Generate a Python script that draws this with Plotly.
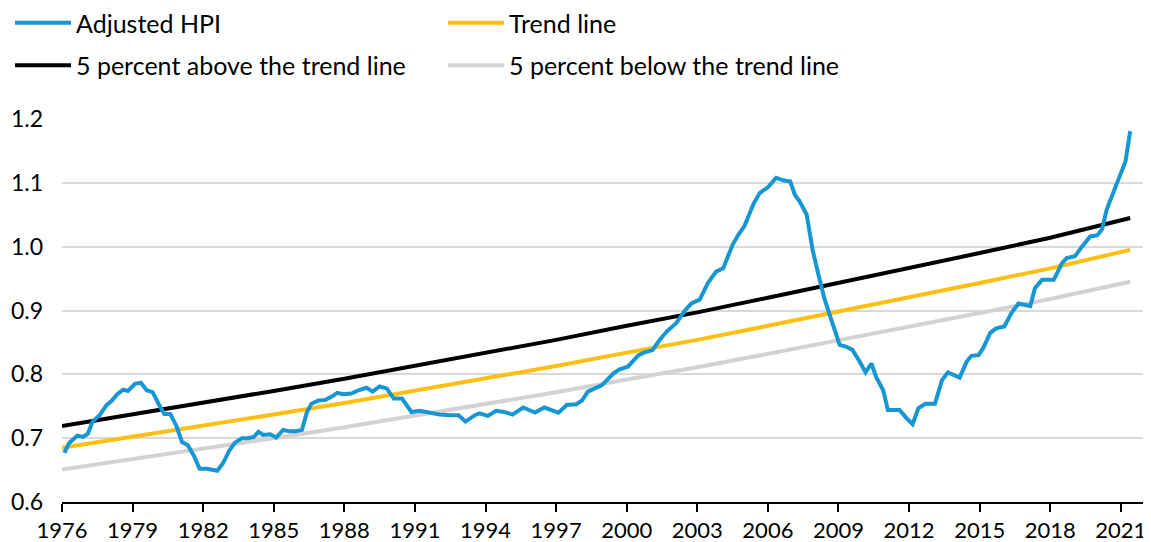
import plotly.graph_objects as go

# ---- data ----
hpi_year = [1976.1, 1976.3, 1976.65, 1976.9, 1977.1, 1977.3, 1977.6, 1977.9, 1978.1, 1978.35,
            1978.6, 1978.8, 1979.1, 1979.35, 1979.6, 1979.85, 1980.1, 1980.35, 1980.6, 1980.85,
            1981.1, 1981.35, 1981.6, 1981.85, 1982.15, 1982.4, 1982.6, 1982.85, 1983.1, 1983.35,
            1983.65, 1983.9, 1984.15, 1984.35, 1984.55, 1984.85, 1985.1, 1985.4, 1985.65, 1985.95,
            1986.2, 1986.4, 1986.6, 1986.9, 1987.2, 1987.5, 1987.7, 1987.95, 1988.3, 1988.6,
            1988.95, 1989.2, 1989.5, 1989.8, 1990.1, 1990.45, 1990.65, 1990.85, 1991.2, 1991.65,
            1992.05, 1992.5, 1992.85, 1993.15, 1993.55, 1993.75, 1994.1, 1994.45, 1994.8, 1995.15,
            1995.6, 1996.1, 1996.5, 1997.1, 1997.45, 1997.85, 1998.1, 1998.35, 1998.95, 1999.45,
            1999.7, 2000.05, 2000.5, 2000.8, 2001.1, 2001.4, 2001.7, 2002.1, 2002.5, 2002.75,
            2003.1, 2003.45, 2003.8, 2004.1, 2004.5, 2004.75, 2005.0, 2005.4, 2005.65, 2006.0,
            2006.35, 2006.65, 2006.95, 2007.15, 2007.35, 2007.65, 2007.9, 2008.15, 2008.4, 2008.7,
            2009.05, 2009.35, 2009.6, 2009.9, 2010.15, 2010.4, 2010.6, 2010.9, 2011.1, 2011.4,
            2011.6, 2011.9, 2012.15, 2012.4, 2012.7, 2013.1, 2013.4, 2013.65, 2014.15, 2014.45,
            2014.65, 2014.95, 2015.15, 2015.45, 2015.7, 2016.05, 2016.35, 2016.65, 2017.15, 2017.35,
            2017.65, 2018.15, 2018.5, 2018.7, 2019.05, 2019.35, 2019.7, 2020.0, 2020.2, 2020.4,
            2020.8, 2021.2, 2021.4]
hpi_value = [0.677, 0.692, 0.704, 0.702, 0.707, 0.726, 0.736, 0.752, 0.758, 0.769,
             0.776, 0.774, 0.785, 0.787, 0.775, 0.772, 0.754, 0.738, 0.738, 0.720,
             0.694, 0.689, 0.673, 0.652, 0.652, 0.650, 0.649, 0.661, 0.680, 0.693,
             0.700, 0.700, 0.702, 0.710, 0.705, 0.706, 0.701, 0.713, 0.711, 0.711,
             0.713, 0.740, 0.754, 0.759, 0.760, 0.766, 0.771, 0.769, 0.770, 0.775,
             0.779, 0.773, 0.781, 0.778, 0.762, 0.762, 0.752, 0.741, 0.743, 0.740,
             0.737, 0.736, 0.736, 0.726, 0.736, 0.739, 0.735, 0.743, 0.741, 0.737,
             0.748, 0.740, 0.748, 0.740, 0.752, 0.753, 0.759, 0.773, 0.783, 0.802,
             0.808, 0.812, 0.830, 0.835, 0.838, 0.854, 0.867, 0.880, 0.901, 0.911,
             0.917, 0.943, 0.961, 0.966, 1.003, 1.019, 1.032, 1.068, 1.084, 1.093,
             1.108, 1.104, 1.102, 1.081, 1.071, 1.050, 0.995, 0.956, 0.919, 0.885,
             0.846, 0.843, 0.838, 0.820, 0.803, 0.817, 0.796, 0.775, 0.744, 0.744,
             0.744, 0.731, 0.722, 0.747, 0.754, 0.754, 0.791, 0.803, 0.795, 0.820,
             0.829, 0.830, 0.841, 0.865, 0.872, 0.875, 0.896, 0.911, 0.907, 0.935,
             0.948, 0.948, 0.974, 0.982, 0.985, 1.000, 1.016, 1.018, 1.027, 1.058,
             1.095, 1.134, 1.181]

trend_year = [1976, 1979, 1982, 1985, 1988, 1991, 1994, 1997, 2000, 2003, 2006, 2009, 2012, 2015, 2018, 2021.4]
trend_value = [0.685, 0.702, 0.719, 0.737, 0.755, 0.774, 0.793, 0.813, 0.834, 0.854,
               0.876, 0.898, 0.920, 0.943, 0.966, 0.995]
above_value = [0.719, 0.737, 0.755, 0.774, 0.793, 0.813, 0.833, 0.854, 0.876, 0.897,
               0.920, 0.943, 0.966, 0.990, 1.014, 1.045]
below_value = [0.651, 0.667, 0.683, 0.700, 0.717, 0.735, 0.753, 0.772, 0.792, 0.811,
               0.832, 0.853, 0.874, 0.896, 0.918, 0.945]

tick_years = list(range(1976, 2022, 3))
tick_labels = [str(y) for y in tick_years]
y_ticks = [0.6, 0.7, 0.8, 0.9, 1.0, 1.1, 1.2]
y_labels = ["0.6", "0.7", "0.8", "0.9", "1.0", "1.1", "1.2"]

BLUE = "#1696d2"
YELLOW = "#fdbf11"
BLACK = "#000000"
GRAY = "#d2d2d2"
FONT = "Lato, 'Open Sans', sans-serif"

# page is offset by the 8px default body margin
W, H = 1143, 534
ML, MR, MT, MB = 54, 5, 111, 40
PW = W - ML - MR
PH = H - MT - MB

fig = go.Figure()
fig.add_trace(go.Scatter(x=trend_year, y=below_value, mode="lines", name="5 percent below the trend line",
                         line=dict(color=GRAY, width=4), legend="legend2", legendgroup="d",
                         legendrank=2))
fig.add_trace(go.Scatter(x=trend_year, y=trend_value, mode="lines", name="Trend line",
                         line=dict(color=YELLOW, width=4), legend="legend2", legendgroup="b",
                         legendrank=1))
fig.add_trace(go.Scatter(x=trend_year, y=above_value, mode="lines", name="5 percent above the trend line",
                         line=dict(color=BLACK, width=4), legend="legend", legendgroup="c",
                         legendrank=2))
fig.add_trace(go.Scatter(x=hpi_year, y=hpi_value, mode="lines", name="Adjusted HPI",
                         line=dict(color=BLUE, width=4), legend="legend", legendgroup="a",
                         legendrank=1))

legend_common = dict(orientation="v", yanchor="top", xanchor="left",
                     font=dict(family=FONT, size=25, color="#000000"),
                     tracegroupgap=7, bgcolor="rgba(0,0,0,0)", borderwidth=0,
                     traceorder="grouped", itemwidth=56)

# legend pixel positions (figure coords)
leg_top = -8
leg1_left = 2
leg2_left = 435

fig.update_layout(
    width=W, height=H,
    margin=dict(l=ML, r=MR, t=MT, b=MB, autoexpand=False),
    paper_bgcolor="white", plot_bgcolor="white",
    font=dict(family=FONT, size=22, color="#000000"),
    showlegend=True,
    legend=dict(x=(leg1_left - ML) / PW, y=(H - MB - leg_top) / PH, **legend_common),
    legend2=dict(x=(leg2_left - ML) / PW, y=(H - MB - leg_top) / PH, **legend_common),
    xaxis=dict(range=[1976, 2022.07], tickmode="array", tickvals=tick_years, ticktext=tick_labels,
               showgrid=False, zeroline=False, showline=True, linecolor="#000000", linewidth=2,
               ticks="outside", ticklen=8, tickwidth=2, tickcolor="#000000",
               tickfont=dict(family=FONT, size=22, color="#000000")),
    yaxis=dict(range=[0.6, 1.2], tickmode="array", tickvals=y_ticks, ticktext=y_labels,
               showgrid=True, gridcolor="#d9d9d9", gridwidth=2, zeroline=False, showline=False,
               ticks="", ticklabelstandoff=18,
               tickfont=dict(family=FONT, size=23, color="#000000")),
)

fig.write_html("out.html")
